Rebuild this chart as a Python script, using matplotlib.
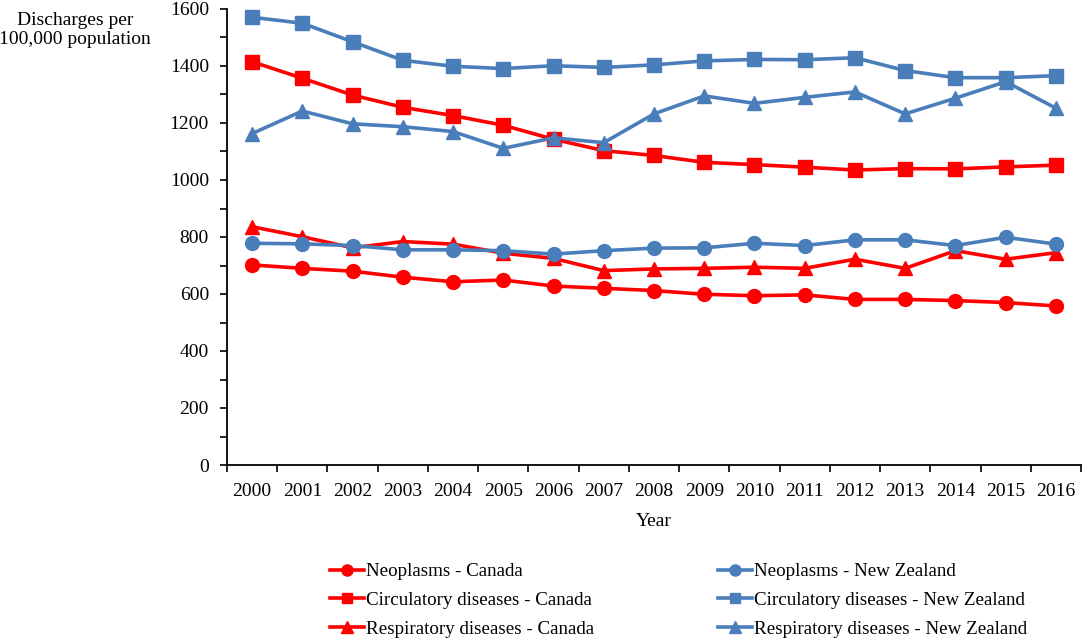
import matplotlib
matplotlib.use("Agg")
import matplotlib.pyplot as plt
from matplotlib.ticker import MultipleLocator

years = [str(y) for y in range(2000, 2017)]

neo_canada = [702, 690, 680, 659, 643, 649, 628, 620, 612, 599, 594, 597, 581, 581, 577, 570, 558]
circ_canada = [1415, 1357, 1298, 1255, 1226, 1192, 1143, 1103, 1086, 1062, 1054, 1045, 1035, 1040, 1039, 1046, 1052]
resp_canada = [836, 801, 762, 784, 775, 743, 725, 682, 688, 690, 694, 690, 722, 690, 752, 722, 745]

neo_nz = [778, 776, 770, 755, 755, 752, 740, 752, 761, 762, 778, 770, 790, 790, 770, 799, 775]
circ_nz = [1571, 1550, 1485, 1420, 1399, 1391, 1401, 1395, 1404, 1418, 1423, 1422, 1429, 1384, 1359, 1359, 1366]
resp_nz = [1163, 1242, 1197, 1187, 1170, 1111, 1148, 1131, 1232, 1295, 1269, 1290, 1309, 1232, 1287, 1345, 1252]

RED = "#FF0000"
BLUE = "#4A7EBB"

plt.rcParams['font.family'] = ['Liberation Serif', 'DejaVu Serif']
plt.rcParams['font.size'] = 14

fig = plt.figure(figsize=(10.84, 6.39), dpi=100)
ax = fig.add_axes([227 / 1084, 1 - 465 / 639, (1081 - 227) / 1084, (465 - 9) / 639])

x = list(range(len(years)))
series = [
    (neo_canada, RED, 'o', 'Neoplasms - Canada'),
    (circ_canada, RED, 's', 'Circulatory diseases - Canada'),
    (resp_canada, RED, '^', 'Respiratory diseases - Canada'),
    (neo_nz, BLUE, 'o', 'Neoplasms - New Zealand'),
    (circ_nz, BLUE, 's', 'Circulatory diseases - New Zealand'),
    (resp_nz, BLUE, '^', 'Respiratory diseases - New Zealand'),
]
handles = []
for vals, col, mk, lab in series:
    ms = 10 if mk != 's' else 9.5
    h, = ax.plot(x, vals, color=col, marker=mk, markersize=ms, linewidth=2.6,
                 markeredgecolor=col, label=lab, clip_on=False)
    handles.append(h)

ax.set_xlim(-0.5, len(years) - 0.5)
ax.set_ylim(0, 1600)
ax.set_xticks([i - 0.5 for i in range(len(years) + 1)])
ax.set_xticklabels([])
ax.set_xticks(x, minor=True)
ax.set_xticklabels(years, minor=True)
ax.tick_params(axis='x', which='major', direction='out', length=5, width=1.2)
ax.tick_params(axis='x', which='minor', length=0, pad=13)
ax.yaxis.set_major_locator(MultipleLocator(200))
ax.yaxis.set_minor_locator(MultipleLocator(100))
ax.tick_params(axis='y', which='both', direction='out', length=5, width=1.2, pad=8)

for s in ['top', 'right']:
    ax.spines[s].set_visible(False)
for s in ['left', 'bottom']:
    ax.spines[s].set_linewidth(1.3)

fig.text(75 / 1084, 1 - 30 / 639, 'Discharges per\n100,000 population',
         ha='center', va='center', linespacing=1.2)
fig.text(654 / 1084, 1 - 521 / 639, 'Year', ha='center', va='center')

fig.legend(handles=handles, ncol=2, loc='upper left',
           bbox_to_anchor=(330 / 1084, 1 - 563 / 639), frameon=False,
           fontsize=13.7, handlelength=1.8, handletextpad=0.1, columnspacing=6.5,
           labelspacing=0.6, markerscale=0.8, borderpad=0, borderaxespad=0)

fig.savefig('out.png', dpi=100)
